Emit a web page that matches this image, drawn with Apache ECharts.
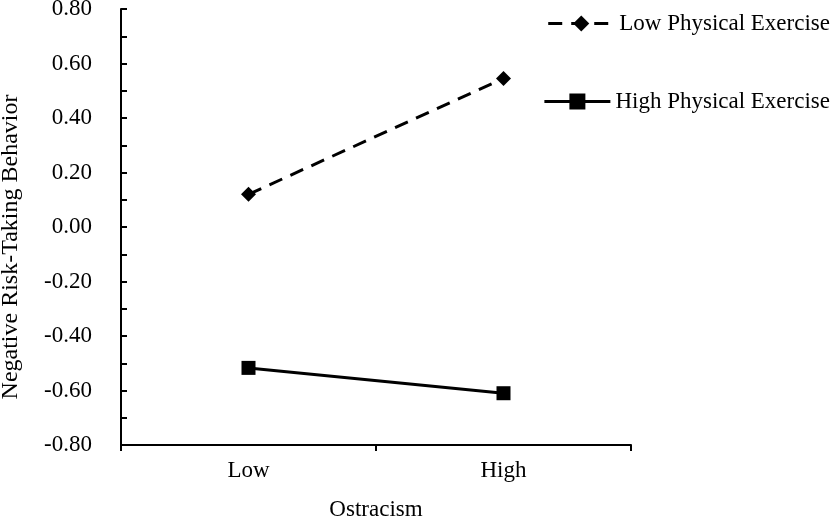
<!DOCTYPE html>
<html lang="en">
  <head>
    <meta charset="UTF-8" />
    <title>Ostracism x Physical Exercise</title>
    <script src="https://cdn.jsdelivr.net/npm/echarts@6/dist/echarts.min.js"></script>
    <style>
      html, body { margin: 0; padding: 0; background: #fff; }
      #chart { width: 839px; height: 518px; }
    </style>
  </head>
  <body>
    <div id="chart"></div>
    <script>
      const categories = ["Low", "High"];
      const lowExercise = [0.12, 0.545];
      const highExercise = [-0.517, -0.61];
      const seriesNames = ["Low Physical Exercise", "High Physical Exercise"];

      const font = "'Liberation Serif', 'Times New Roman', serif";
      const chart = echarts.init(document.getElementById("chart"));

      const legendCommon = {
        right: 4,
        itemWidth: 66, itemHeight: 20, itemGap: 6,
        lineStyle: { width: 3 },
        textStyle: { fontFamily: font, fontSize: 23, color: "#000" }
      };

      chart.setOption({
        animation: false,
        textStyle: { fontFamily: font, color: "#000" },
        grid: { left: 121, top: 9, right: 208, bottom: 73, outerBoundsMode: "none" },
        legend: [
          Object.assign({ data: [seriesNames[0]], top: 7 }, legendCommon),
          Object.assign({ data: [seriesNames[1]], top: 85 }, legendCommon)
        ],
        xAxis: {
          type: "category",
          data: categories,
          name: "Ostracism",
          nameLocation: "middle",
          nameGap: 53,
          nameTextStyle: { fontFamily: font, fontSize: 23, color: "#000" },
          axisLine: { onZero: false, lineStyle: { color: "#000", width: 2 } },
          axisTick: { show: true, inside: false, length: 6, lineStyle: { color: "#000", width: 2 } },
          axisLabel: { fontFamily: font, fontSize: 23, color: "#000", margin: 14 },
          splitLine: { show: false }
        },
        yAxis: {
          type: "value",
          min: -0.8, max: 0.8, interval: 0.2,
          name: "Negative Risk-Taking Behavior",
          nameLocation: "middle",
          nameGap: 98,
          nameTextStyle: { fontFamily: font, fontSize: 24, color: "#000", padding: [0, 40, 0, 0] },
          axisLine: { show: true, lineStyle: { color: "#000", width: 2 } },
          axisTick: { show: true, inside: true, length: 6, lineStyle: { color: "#000", width: 2 } },
          minorTick: { show: true, splitNumber: 2, length: 6, lineStyle: { color: "#000", width: 2 } },
          axisLabel: {
            fontFamily: font, fontSize: 23, color: "#000", margin: 29,
            formatter: v => v.toFixed(2)
          },
          splitLine: { show: false }
        },
        series: [
          {
            name: seriesNames[0],
            type: "line",
            data: lowExercise,
            symbol: "diamond",
            symbolSize: 15,
            itemStyle: { color: "#000" },
            lineStyle: { color: "#000", width: 3, type: [14, 9] }
          },
          {
            name: seriesNames[1],
            type: "line",
            data: highExercise,
            symbol: "rect",
            symbolSize: 14,
            itemStyle: { color: "#000" },
            lineStyle: { color: "#000", width: 3, type: "solid" }
          }
        ]
      });
    </script>
  </body>
</html>
